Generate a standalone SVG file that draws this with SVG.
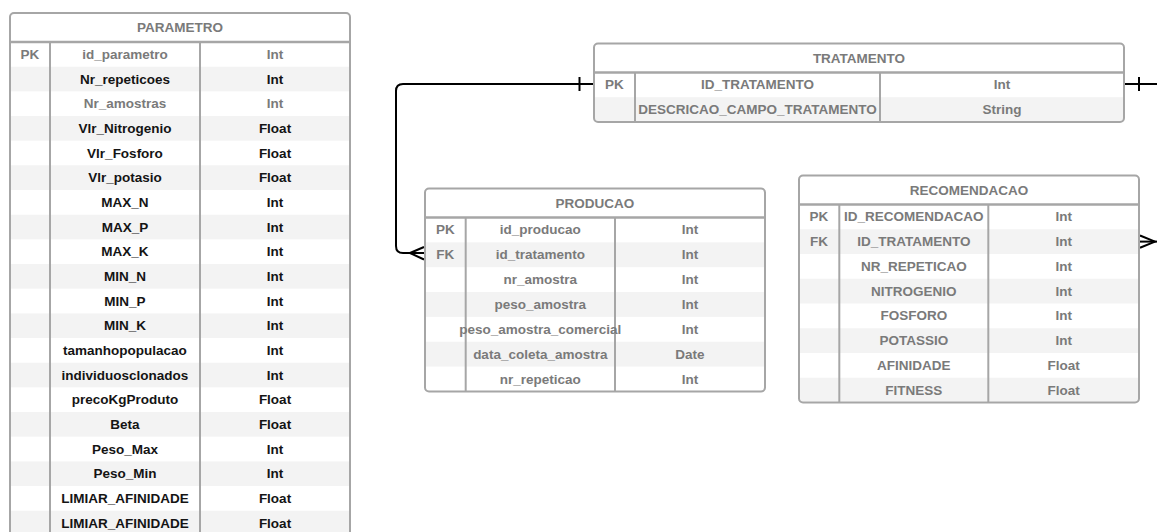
<svg xmlns="http://www.w3.org/2000/svg" width="1157" height="532" viewBox="0 0 1157 532">
<style>
.bg{fill:#ffffff}
.alt{fill:#f3f3f3}
.frame{fill:none;stroke:#a6a6a6;stroke-width:2}
.dv{stroke:#a6a6a6;stroke-width:2}
.hd{stroke:#a6a6a6;stroke-width:2.5}
.t{font-family:"Liberation Sans",Arial,sans-serif;font-size:13.5px;font-weight:bold;text-anchor:middle;fill:#7a7a7a}
.k{fill:#141414}
.conn{fill:none;stroke:#000;stroke-width:2;stroke-linejoin:round}
</style>
<rect x="0" y="0" width="1157" height="532" fill="#ffffff"/>

<g id="connectors">
  <path class="conn" d="M594 84 H403 Q396 84 396 91 V246 Q396 253 403 253 H425"/>
  <path class="conn" d="M579.5 77 V91"/>
  <path class="conn" d="M410 253 L424 247 M410 253 L424 259.5"/>
  <path class="conn" d="M1124 84 H1160"/>
  <path class="conn" d="M1139 77 V91"/>
  <path class="conn" d="M1139 241.6 H1160"/>
  <path class="conn" d="M1140 235.5 L1155 241.6 L1140 247.7"/>
</g>

<g id="parametro">
  <rect class="bg" x="10" y="13" width="340" height="530" rx="4"/>
  <rect class="alt" x="11" y="66.7" width="338" height="24.67"/>
  <rect class="alt" x="11" y="116" width="338" height="24.67"/>
  <rect class="alt" x="11" y="165.3" width="338" height="24.67"/>
  <rect class="alt" x="11" y="214.7" width="338" height="24.67"/>
  <rect class="alt" x="11" y="264" width="338" height="24.67"/>
  <rect class="alt" x="11" y="313.4" width="338" height="24.67"/>
  <rect class="alt" x="11" y="362.7" width="338" height="24.67"/>
  <rect class="alt" x="11" y="412" width="338" height="24.67"/>
  <rect class="alt" x="11" y="461.4" width="338" height="24.67"/>
  <rect class="alt" x="11" y="510.7" width="338" height="24.67"/>
  <line class="hd" x1="10" y1="42" x2="350" y2="42"/>
  <line class="dv" x1="50" y1="42" x2="50" y2="540"/>
  <line class="dv" x1="200" y1="42" x2="200" y2="540"/>
  <rect class="frame" x="10" y="13" width="340" height="530" rx="4"/>
  <text class="t" x="180" y="32.3">PARAMETRO</text>
  <text class="t" x="30" y="59">PK</text>
  <text class="t" x="125" y="59">id_parametro</text><text class="t" x="275" y="59">Int</text>
  <text class="t k" x="125" y="83.7">Nr_repeticoes</text><text class="t k" x="275" y="83.7">Int</text>
  <text class="t" x="125" y="108.4">Nr_amostras</text><text class="t" x="275" y="108.4">Int</text>
  <text class="t k" x="125" y="133">Vlr_Nitrogenio</text><text class="t k" x="275" y="133">Float</text>
  <text class="t k" x="125" y="157.7">Vlr_Fosforo</text><text class="t k" x="275" y="157.7">Float</text>
  <text class="t k" x="125" y="182.4">Vlr_potasio</text><text class="t k" x="275" y="182.4">Float</text>
  <text class="t k" x="125" y="207.1">MAX_N</text><text class="t k" x="275" y="207.1">Int</text>
  <text class="t k" x="125" y="231.7">MAX_P</text><text class="t k" x="275" y="231.7">Int</text>
  <text class="t k" x="125" y="256.4">MAX_K</text><text class="t k" x="275" y="256.4">Int</text>
  <text class="t k" x="125" y="281.1">MIN_N</text><text class="t k" x="275" y="281.1">Int</text>
  <text class="t k" x="125" y="305.7">MIN_P</text><text class="t k" x="275" y="305.7">Int</text>
  <text class="t k" x="125" y="330.4">MIN_K</text><text class="t k" x="275" y="330.4">Int</text>
  <text class="t k" x="125" y="355.1">tamanhopopulacao</text><text class="t k" x="275" y="355.1">Int</text>
  <text class="t k" x="125" y="379.7">individuosclonados</text><text class="t k" x="275" y="379.7">Int</text>
  <text class="t k" x="125" y="404.4">precoKgProduto</text><text class="t k" x="275" y="404.4">Float</text>
  <text class="t k" x="125" y="429.1">Beta</text><text class="t k" x="275" y="429.1">Float</text>
  <text class="t k" x="125" y="453.8">Peso_Max</text><text class="t k" x="275" y="453.8">Int</text>
  <text class="t k" x="125" y="478.4">Peso_Min</text><text class="t k" x="275" y="478.4">Int</text>
  <text class="t k" x="125" y="503.1">LIMIAR_AFINIDADE</text><text class="t k" x="275" y="503.1">Float</text>
  <text class="t k" x="125" y="527.8">LIMIAR_AFINIDADE</text><text class="t k" x="275" y="527.8">Float</text>
</g>

<g id="tratamento">
  <rect class="bg" x="594" y="43.5" width="530" height="78.4" rx="4"/>
  <rect class="alt" x="595" y="97.2" width="528" height="23.7"/>
  <line class="hd" x1="594" y1="72.5" x2="1124" y2="72.5"/>
  <line class="dv" x1="635" y1="72.5" x2="635" y2="121.9"/>
  <line class="dv" x1="880" y1="72.5" x2="880" y2="121.9"/>
  <rect class="frame" x="594" y="43.5" width="530" height="78.4" rx="4"/>
  <text class="t" x="859" y="62.7">TRATAMENTO</text>
  <text class="t" x="614.5" y="89.3">PK</text>
  <text class="t" x="757.5" y="89.3">ID_TRATAMENTO</text><text class="t" x="1002" y="89.3">Int</text>
  <text class="t" x="757.5" y="114">DESCRICAO_CAMPO_TRATAMENTO</text><text class="t" x="1002" y="114">String</text>
</g>

<g id="producao">
  <rect class="bg" x="425" y="188.5" width="340" height="203" rx="4"/>
  <rect class="alt" x="426" y="242.35" width="338" height="24.85"/>
  <rect class="alt" x="426" y="292.05" width="338" height="24.85"/>
  <rect class="alt" x="426" y="341.75" width="338" height="24.85"/>
  <line class="hd" x1="425" y1="217.5" x2="765" y2="217.5"/>
  <line class="dv" x1="465.7" y1="217.5" x2="465.7" y2="391.5"/>
  <line class="dv" x1="615" y1="217.5" x2="615" y2="391.5"/>
  <rect class="frame" x="425" y="188.5" width="340" height="203" rx="4"/>
  <text class="t" x="595" y="207.5">PRODUCAO</text>
  <text class="t" x="445.3" y="234.4">PK</text>
  <text class="t" x="540.3" y="234.4">id_producao</text><text class="t" x="690" y="234.4">Int</text>
  <text class="t" x="445.3" y="259.3">FK</text>
  <text class="t" x="540.3" y="259.3">id_tratamento</text><text class="t" x="690" y="259.3">Int</text>
  <text class="t" x="540.3" y="284.1">nr_amostra</text><text class="t" x="690" y="284.1">Int</text>
  <text class="t" x="540.3" y="309">peso_amostra</text><text class="t" x="690" y="309">Int</text>
  <text class="t" x="540.3" y="333.8">peso_amostra_comercial</text><text class="t" x="690" y="333.8">Int</text>
  <text class="t" x="540.3" y="358.7">data_coleta_amostra</text><text class="t" x="690" y="358.7">Date</text>
  <text class="t" x="540.3" y="383.5">nr_repeticao</text><text class="t" x="690" y="383.5">Int</text>
</g>

<g id="recomendacao">
  <rect class="bg" x="799" y="175.5" width="340" height="227" rx="4"/>
  <rect class="alt" x="800" y="229.25" width="338" height="24.75"/>
  <rect class="alt" x="800" y="278.75" width="338" height="24.75"/>
  <rect class="alt" x="800" y="328.25" width="338" height="24.75"/>
  <rect class="alt" x="800" y="377.75" width="338" height="23.75"/>
  <line class="hd" x1="799" y1="204.5" x2="1139" y2="204.5"/>
  <line class="dv" x1="839.3" y1="204.5" x2="839.3" y2="402.5"/>
  <line class="dv" x1="988.3" y1="204.5" x2="988.3" y2="402.5"/>
  <rect class="frame" x="799" y="175.5" width="340" height="227" rx="4"/>
  <text class="t" x="969" y="194.5">RECOMENDACAO</text>
  <text class="t" x="819" y="221.4">PK</text>
  <text class="t" x="913.8" y="221.4">ID_RECOMENDACAO</text><text class="t" x="1063.7" y="221.4">Int</text>
  <text class="t" x="819" y="246.1">FK</text>
  <text class="t" x="913.8" y="246.1">ID_TRATAMENTO</text><text class="t" x="1063.7" y="246.1">Int</text>
  <text class="t" x="913.8" y="270.9">NR_REPETICAO</text><text class="t" x="1063.7" y="270.9">Int</text>
  <text class="t" x="913.8" y="295.6">NITROGENIO</text><text class="t" x="1063.7" y="295.6">Int</text>
  <text class="t" x="913.8" y="320.4">FOSFORO</text><text class="t" x="1063.7" y="320.4">Int</text>
  <text class="t" x="913.8" y="345.1">POTASSIO</text><text class="t" x="1063.7" y="345.1">Int</text>
  <text class="t" x="913.8" y="369.9">AFINIDADE</text><text class="t" x="1063.7" y="369.9">Float</text>
  <text class="t" x="913.8" y="394.6">FITNESS</text><text class="t" x="1063.7" y="394.6">Float</text>
</g>
</svg>
